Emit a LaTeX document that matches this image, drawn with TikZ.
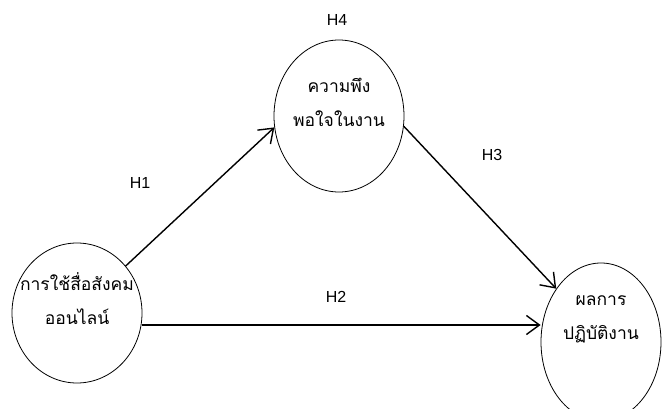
\documentclass[tikz,border=0pt]{standalone}
\usepackage{fontspec}
\setmainfont{Liberation Sans}
\newfontfamily\thaifont[Script=Thai]{Loma}
\usetikzlibrary{arrows.meta,shapes.geometric}
\begin{document}
\begin{tikzpicture}[x=1pt,y=-1pt,
  var/.style={draw,ellipse,line width=0.8pt,inner sep=0pt},
  vtext/.style={align=center,inner sep=0pt,font=\thaifont\fontsize{17.5}{34}\selectfont},
  hyp/.style={font=\fontsize{16}{18}\selectfont},
  link/.style={draw,line width=1.4pt,-{Straight Barb[length=13pt,width=19pt,line width=1.4pt]}}]
\useasboundingbox (0,0) rectangle (662,409);
\node[var,minimum width=130,minimum height=140] (use) at (77,313) {};
\node[var,minimum width=130,minimum height=152] (sat) at (339,116) {};
\node[var,minimum width=120,minimum height=158] (perf) at (601,342) {};
\node[vtext] (usetxt) at (77,299) {การใช้สื่อสังคม\\ออนไลน์};
\node[vtext] (sattxt) at (339,102) {ความพึง\\พอใจในงาน};
\node[vtext] (perftxt) at (601,319) {ผลการ\\ปฏิบัติงาน};
\coordinate (h2y) at (0,325);
\draw[link] (use.44) -- (sat.190);
\draw[link] (sat.-9) -- (perf.130);
\draw[link] (use.east |- h2y) -- (perf.west |- h2y);
\node[hyp] (h4) at (337,20) {H4};
\node[hyp] (h1) at (140,183) {H1};
\node[hyp] (h3) at (492,155) {H3};
\node[hyp] (h2) at (336,297) {H2};
\end{tikzpicture}
\end{document}
